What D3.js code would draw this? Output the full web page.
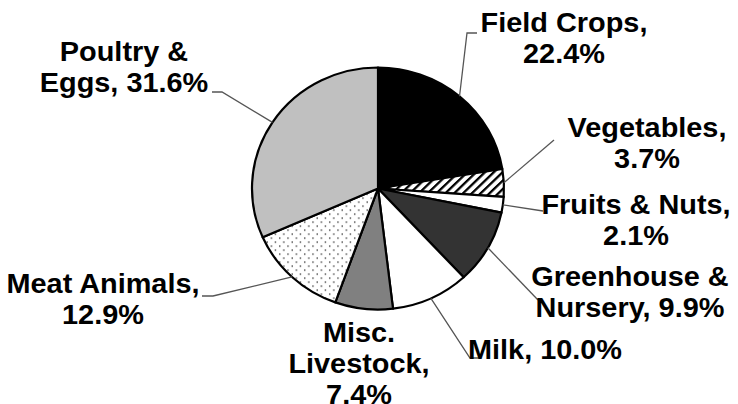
<!DOCTYPE html>
<html>
<head>
<meta charset="utf-8">
<script src="https://cdn.jsdelivr.net/npm/d3@7"></script>
<style>
  body { margin: 0; background: #fff; }
  text { font-family: "Liberation Sans", Arial, sans-serif; font-weight: bold; font-size: 27.5px; fill: #000; }
</style>
</head>
<body>
<div id="chart"></div>
<script>
// data
const categories = ["Field Crops", "Vegetables", "Fruits & Nuts", "Greenhouse & Nursery", "Milk",
    "Misc. Livestock", "Meat Animals", "Poultry & Eggs"];
const values = [22.4, 3.7, 2.1, 9.9, 10.0, 7.4, 12.9, 31.6];

// layout of slices / labels (words per line, label centre, first baseline, leader path ends)
const fills = ["#000", "url(#hatch)", "#fff", "#333", "#fff", "#808080", "url(#dots)", "#c0c0c0"];
const wordsPerLine = [[2, 1], [1, 1], [3, 1], [2, 2], [2], [1, 1, 1], [2, 1], [2, 2]];
const labelX = [564, 647, 636, 630, 545, 359, 103, 124];
const labelY = [32, 137, 214, 286, 359, 342, 293, 61];
const leaderEnds = [
    [[467, 33], [477, 33]],
    [[554, 140]],
    [[543, 211]],
    [[538, 300]],
    [[470, 358], [480, 358]],
    null,
    [[213, 296], [202, 296]],
    [[222, 92], [212, 92]]
];

const width = 738, height = 404;
const cx = 378, cy = 188.5, rx = 126, ry = 121;
const lineHeight = 31;
const textStretch = 1.05;

let svg = d3.select("#chart").append("svg")
    .attr("width", width)
    .attr("height", height);

let defs = svg.append("defs");

let hatch = defs.append("pattern")
    .attr("id", "hatch")
    .attr("patternUnits", "userSpaceOnUse")
    .attr("width", 6).attr("height", 6)
    .attr("patternTransform", "rotate(45)");
hatch.append("rect").attr("width", 6).attr("height", 6).attr("fill", "#fff");
hatch.append("line").attr("x1", 0).attr("y1", 0).attr("x2", 0).attr("y2", 6)
    .attr("stroke", "#000").attr("stroke-width", 4.5);

let dots = defs.append("pattern")
    .attr("id", "dots")
    .attr("patternUnits", "userSpaceOnUse")
    .attr("width", 8).attr("height", 8);
dots.append("rect").attr("width", 8).attr("height", 8).attr("fill", "#fff");
dots.append("rect").attr("x", 1).attr("y", 1).attr("width", 1.2).attr("height", 1.2).attr("fill", "#000");
dots.append("rect").attr("x", 5).attr("y", 5).attr("width", 1.2).attr("height", 1.2).attr("fill", "#000");

let pie = d3.pie().sort(null).value(d => d)(values);
let arc = d3.arc().innerRadius(0).outerRadius(ry);

let g = svg.append("g")
    .attr("transform", "translate(" + cx + "," + cy + ") scale(" + (rx / ry) + ",1)");

g.selectAll("path")
    .data(pie)
    .enter().append("path")
    .attr("d", arc)
    .attr("fill", (d, i) => fills[i])
    .attr("stroke", "#000")
    .attr("stroke-width", 2.2)
    .attr("stroke-linejoin", "round")
    .attr("vector-effect", "non-scaling-stroke");

// leader lines from the middle of each slice edge
pie.forEach(function (d, i) {
    if (!leaderEnds[i]) return;
    let a = (d.startAngle + d.endAngle) / 2;
    let pts = [[cx + rx * Math.sin(a), cy - ry * Math.cos(a)], ...leaderEnds[i]];
    svg.append("path")
        .attr("d", d3.line()(pts))
        .attr("fill", "none")
        .attr("stroke", "#555")
        .attr("stroke-width", 1.3);
});

// labels
categories.forEach(function (name, i) {
    let words = (name + ", " + values[i].toFixed(1) + "%").split(" ");
    let lines = [];
    wordsPerLine[i].forEach(function (n) {
        lines.push(words.splice(0, n).join(" "));
    });
    let t = svg.append("text")
        .attr("text-anchor", "middle")
        .attr("transform", "translate(" + labelX[i] + "," + labelY[i] + ") scale(" + textStretch + ",1)");
    lines.forEach(function (s, j) {
        t.append("tspan")
            .attr("x", 0)
            .attr("dy", j == 0 ? 0 : lineHeight)
            .text(s);
    });
});
</script>
</body>
</html>
